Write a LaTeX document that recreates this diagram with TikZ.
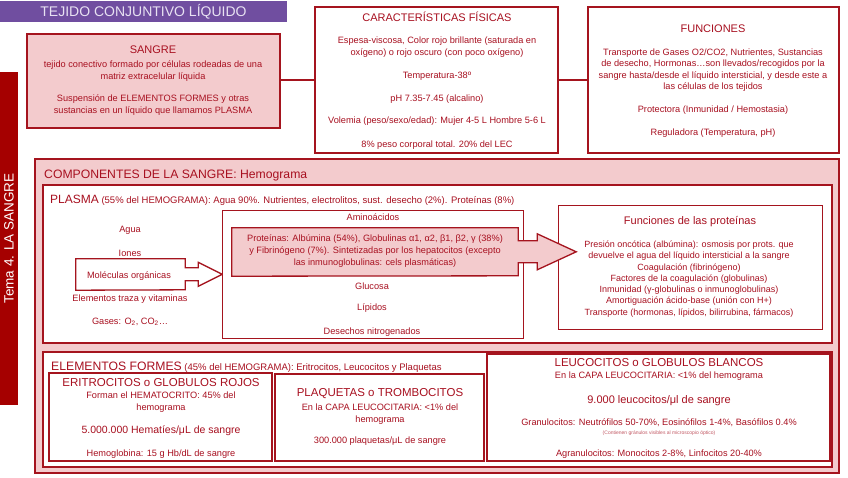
\documentclass[tikz,border=0pt]{standalone}
\usepackage{fontspec}
\setmainfont{Liberation Sans}
\usetikzlibrary{positioning}
\definecolor{rojotxt}{RGB}{168,16,32}
\definecolor{rojoborde}{RGB}{165,20,30}
\definecolor{rosa}{RGB}{243,203,205}
\definecolor{morado}{RGB}{112,78,160}
\definecolor{lila}{RGB}{232,226,242}
\definecolor{rojotema}{RGB}{165,0,0}

\begin{document}
\begin{tikzpicture}[x=1pt, y=-1pt,
  caja/.style={draw=rojoborde, line width=1.6pt, fill=white, inner sep=0pt},
  cajarosa/.style={caja, fill=rosa},
  cajafina/.style={draw=rojoborde, line width=1pt, fill=white, inner sep=0pt},
  titulo/.style={text=rojotxt, font=\fontsize{11}{13}\selectfont, inner sep=0pt},
  cabecera/.style={text=rojotxt, font=\fontsize{9.5}{12}\selectfont, inner sep=0pt, anchor=west},
  texto/.style={text=rojotxt, font=\fontsize{9.2}{12}\selectfont, align=center, inner sep=0pt},
  grande/.style={text=rojotxt, font=\fontsize{10.5}{12}\selectfont, inner sep=0pt},
  enlace/.style={draw=rojoborde, line width=1.6pt},
  flecha/.style={draw=rojoborde, line width=1.3pt}
]
\useasboundingbox (0,0) rectangle (848,477);

% Titulo y tema
\node[fill=morado, text=lila, minimum width=287pt, minimum height=21pt, inner sep=0pt,
  font=\fontsize{14}{16}\selectfont] (tejido) at (143.5,11.5) {TEJIDO CONJUNTIVO LÍQUIDO};
\node[fill=rojotema, text=white, minimum width=333pt, minimum height=18pt, inner sep=0pt,
  font=\fontsize{13.5}{15}\selectfont, rotate=90] (tema) at (9,238.5) {Tema 4. LA SANGRE};

% Cajas superiores
\node[cajarosa, minimum width=253pt, minimum height=94pt] (sangre) at (153.5,81) {};
\node[caja, minimum width=243pt, minimum height=146pt] (fisicas) at (436.5,80) {};
\node[caja, minimum width=251pt, minimum height=146pt] (funciones) at (713.5,80) {};
\draw[enlace] (sangre.east |- 0,80) -- (fisicas.west |- 0,80);
\draw[enlace] (fisicas.east |- 0,80) -- (funciones.west |- 0,80);

\node[titulo] (sangreT) at (153,50) {SANGRE};
\node[texto] (sangre1) at (153,71) {tejido conectivo formado por células rodeadas de una\\matriz extracelular líquida};
\node[texto] (sangre2) at (153,105) {Suspensión de ELEMENTOS FORMES y otras\\sustancias en un líquido que llamamos PLASMA};

\node[titulo] (fisicasT) at (437,17) {CARACTERÍSTICAS FÍSICAS};
\node[texto] (fis1) at (437,47) {Espesa-viscosa, Color rojo brillante (saturada en\\oxígeno) o rojo oscuro (con poco oxígeno)};
\node[texto] (fis2) at (437,76) {Temperatura-38º};
\node[texto] (fis3) at (437,99) {pH 7.35-7.45 (alcalino)};
\node[texto] (fis4) at (437,121) {Volemia (peso/sexo/edad): Mujer 4-5 L Hombre 5-6 L};
\node[texto] (fis5) at (437,145) {8\% peso corporal total. 20\% del LEC};

\node[titulo] (funcionesT) at (713,29) {FUNCIONES};
\node[texto, font=\fontsize{9.2}{11.4}\selectfont] (fun1) at (713,70) {Transporte de Gases O2/CO2, Nutrientes, Sustancias\\de desecho, Hormonas…son llevados/recogidos por la\\sangre hasta/desde el líquido intersticial, y desde este a\\las células de los tejidos};
\node[texto] (fun2) at (713,110) {Protectora (Inmunidad / Hemostasia)};
\node[texto] (fun3) at (713,133) {Reguladora (Temperatura, pH)};

% Componentes de la sangre
\node[cajarosa, minimum width=804pt, minimum height=314pt] (componentes) at (437,316) {};
\node[cabecera, font=\fontsize{12.2}{14}\selectfont] (componentesT) at (44,176) {COMPONENTES DE LA SANGRE: Hemograma};

% Plasma
\node[caja, minimum width=789pt, minimum height=158pt] (plasma) at (437.5,264) {};
\node[cabecera] (plasmaT) at (50,200) {{\fontsize{12}{14}\selectfont PLASMA} (55\% del HEMOGRAMA): Agua 90\%. Nutrientes, electrolitos, sust. desecho (2\%). Proteínas (8\%)};

\node[texto] (agua) at (130,230) {Agua};
\node[texto] (iones) at (130,253) {Iones};
\node[minimum width=109pt, minimum height=31pt, inner sep=0pt] (molec) at (130.5,274.5) {};
\draw[flecha, fill=white] (molec.north west) -- (molec.north east) -- ++(0,9) -- ++(13,0) -- ++(0,-5.5)
  -- ++(24,12) -- ++(-24,12) -- ++(0,-5.5) -- ++(-13,0) -- ++(0,9) -- (molec.south west) -- cycle;
\node[texto] (molecT) at (129,276) {Moléculas orgánicas};
\node[texto] (traza) at (130,299) {Elementos traza y vitaminas};
\node[texto] (gases) at (130,322) {Gases: O\textsubscript{2}, CO\textsubscript{2}…};

\node[cajafina, minimum width=301pt, minimum height=128pt] (organicas) at (372.5,274) {};
\node[texto] (amino) at (373,217) {Aminoácidos};
\node[texto] (glucosa) at (372,286) {Glucosa};
\node[texto] (lipidos) at (372,308) {Lípidos};
\node[texto] (desechos) at (372,332) {Desechos nitrogenados};

% Funciones de las proteinas
\node[cajafina, minimum width=264pt, minimum height=124pt] (funprot) at (690,267) {};
\node[titulo] (funprotT) at (690,222) {Funciones de las proteínas};
\node[texto, font=\fontsize{9}{11.3}\selectfont] (funprot1) at (689,279) {Presión oncótica (albúmina): osmosis por prots. que\\devuelve el agua del líquido intersticial a la sangre\\Coagulación (fibrinógeno)\\Factores de la coagulación (globulinas)\\Inmunidad (γ-globulinas o inmunoglobulinas)\\Amortiguación ácido-base (unión con H+)\\Transporte (hormonas, lípidos, bilirrubina, fármacos)};

\node[minimum width=286pt, minimum height=48pt, inner sep=0pt] (proteinas) at (375,252) {};
\draw[flecha, fill=rosa] (proteinas.north west) -- (proteinas.north east) -- ++(0,13) -- ++(19,0) -- ++(0,-7)
  -- ++(39,18) -- ++(-39,18) -- ++(0,-7) -- ++(-19,0) -- ++(0,13) -- (proteinas.south west) -- cycle;
\node[texto] (proteinasT) at (375,251) {Proteínas: Albúmina (54\%), Globulinas α1, α2, β1, β2, γ (38\%)\\y Fibrinógeno (7\%). Sintetizadas por los hepatocitos (excepto\\las inmunoglobulinas: cels plasmáticas)};

% Elementos formes
\node[caja, minimum width=789pt, minimum height=115pt] (formes) at (437.5,409.5) {};
\node[cabecera] (formesT) at (51,367) {{\fontsize{12.2}{14}\selectfont ELEMENTOS FORMES} (45\% del HEMOGRAMA): Eritrocitos, Leucocitos y Plaquetas};

\node[caja, minimum width=223pt, minimum height=88pt] (eritro) at (160.5,417) {};
\node[titulo, font=\fontsize{11.5}{13}\selectfont] (eritroT) at (161,383) {ERITROCITOS o GLOBULOS ROJOS};
\node[texto] (eritro1) at (161,402.5) {Forman el HEMATOCRITO: 45\% del\\hemograma};
\node[grande] (eritro2) at (161,431) {5.000.000 Hematíes/μL de sangre};
\node[texto] (eritro3) at (161,454) {Hemoglobina: 15 g Hb/dL de sangre};

\node[caja, minimum width=209pt, minimum height=87pt] (plaq) at (379.5,417.5) {};
\node[titulo, font=\fontsize{11.5}{13}\selectfont] (plaqT) at (380,394) {PLAQUETAS o TROMBOCITOS};
\node[texto] (plaq1) at (380,414) {En la CAPA LEUCOCITARIA: <1\% del\\hemograma};
\node[texto] (plaq2) at (380,441) {300.000 plaquetas/μL de sangre};

\node[caja, minimum width=343pt, minimum height=107pt] (leuco) at (658.5,407.5) {};
\node[titulo, font=\fontsize{11.5}{13}\selectfont] (leucoT) at (659,363) {LEUCOCITOS o GLOBULOS BLANCOS};
\node[texto] (leuco1) at (659,376) {En la CAPA LEUCOCITARIA: <1\% del hemograma};
\node[grande, font=\fontsize{11}{13}\selectfont] (leuco2) at (659,401) {9.000 leucocitos/μl de sangre};
\node[texto] (leuco3) at (659,423) {Granulocitos: Neutrófilos 50-70\%, Eosinófilos 1-4\%, Basófilos 0.4\%};
\node[texto, text=rojotxt!70, font=\fontsize{5}{6}\selectfont] (leuco4) at (659,433) {(Contienen gránulos visibles al microscopio óptico)};
\node[texto] (leuco5) at (659,454) {Agranulocitos: Monocitos 2-8\%, Linfocitos 20-40\%};

\end{tikzpicture}
\end{document}
